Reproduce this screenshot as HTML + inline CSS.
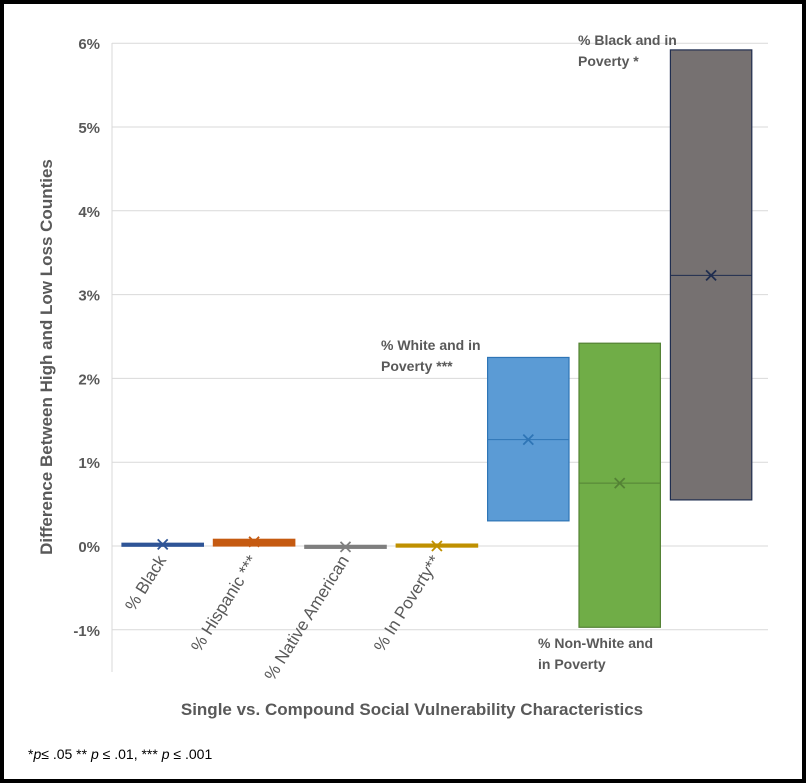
<!DOCTYPE html>
<html><head><meta charset="utf-8"><style>
body{margin:0;background:#fff}
svg{display:block;font-family:"Liberation Sans",sans-serif}
</style></head><body>
<svg id="c" width="806" height="783" viewBox="0 0 806 783">
<rect x="2" y="2" width="802" height="779" fill="#fff" stroke="#000" stroke-width="4"/>
<g id="grid"></g><g id="bars"></g><g id="labels"></g>
<line x1="112" y1="43" x2="112" y2="672" stroke="#d9d9d9"/>
<text transform="translate(52,357) rotate(-90)" text-anchor="middle" font-size="17" font-weight="bold" fill="#595959">Difference Between High and Low Loss Counties</text>
<text x="412" y="715" text-anchor="middle" font-size="17" font-weight="bold" fill="#595959">Single vs. Compound Social Vulnerability Characteristics</text>
<text x="28" y="759" font-size="14" fill="#000">*<tspan font-style="italic">p</tspan>≤ .05 ** <tspan font-style="italic">p</tspan> ≤ .01, *** <tspan font-style="italic">p</tspan> ≤ .001</text>
<text x="578" y="45" font-size="14" font-weight="bold" fill="#595959"><tspan x="578">% Black and in</tspan><tspan x="578" dy="21">Poverty *</tspan></text>
<text x="381" y="350" font-size="14" font-weight="bold" fill="#595959"><tspan x="381">% White and in</tspan><tspan x="381" dy="21">Poverty ***</tspan></text>
<text x="538" y="648" font-size="14" font-weight="bold" fill="#595959"><tspan x="538">% Non-White and</tspan><tspan x="538" dy="21">in Poverty</tspan></text>
</svg>
<script>
const ticks=[6,5,4,3,2,1,0,-1];
const categories=["% Black","% Hispanic ***","% Native American","% In Poverty**","% White and in Poverty","% Non-White and in Poverty","% Black and in Poverty"];
const lows=[0,0,-0.01,0,0.3,-0.97,0.55];
const highs=[0.03,0.08,-0.01,0.01,2.25,2.42,5.92];
const means=[0.02,0.05,-0.01,0,1.27,0.75,3.23];
const fills=["#2f5597","#c55a11","#7f7f7f","#bf9000","#5b9bd5","#70ad47","#767171"];
const strokes=["#2f5597","#c55a11","#7f7f7f","#bf9000","#2e75b6","#548235","#1f2d4f"];
const NS="http://www.w3.org/2000/svg";
const y=v=>546-v*83.8;
const x0=112,bw=91.4;
const mk=(t,a,p)=>{const e=document.createElementNS(NS,t);for(const k in a)e.setAttribute(k,a[k]);p.appendChild(e);return e;};
const g=document.getElementById('grid');
ticks.forEach(t=>{
 const l=mk('line',{x1:112,x2:768,y1:y(t),y2:y(t),stroke:'#d9d9d9'},g);
 
 
 const tx=mk('text',{x:100,y:y(t)+6,'text-anchor':'end','font-size':15,'font-weight':'bold',fill:'#595959'},g);
 tx.textContent=t+'%';
 
 
});
const b=document.getElementById('bars');
categories.forEach((c,i)=>{
 const xl=x0+i*bw+10, w=bw-10;
 const top=y(highs[i]), bot=y(lows[i]);
 const h=Math.max(bot-top,3);
 const r=mk('rect',{x:xl,y:top,width:w,height:h,fill:fills[i],stroke:strokes[i],'stroke-width':1.2},b);
 if(bot-top<3){r.setAttribute('y',(top+bot)/2-1.5);}
 
 
 if(i>=4){
  const ml=mk('line',{x1:xl,x2:xl+w,y1:y(means[i]),y2:y(means[i]),stroke:strokes[i],'stroke-width':1},b);
  
  
 }
 const cx=xl+w/2, cy=y(means[i]);
 const m=mk('path',{d:`M${cx-5},${cy-5}L${cx+5},${cy+5}M${cx-5},${cy+5}L${cx+5},${cy-5}`,stroke:strokes[i],'stroke-width':1.8},b);
 
 
 if(i<4){
  const t=mk('text',{transform:`translate(${cx+4},${560}) rotate(-58)`,'text-anchor':'end','font-size':17,fill:'#595959'},document.getElementById('labels'));
  t.textContent=c;
  
  
 }
});
</script>
</body></html>
